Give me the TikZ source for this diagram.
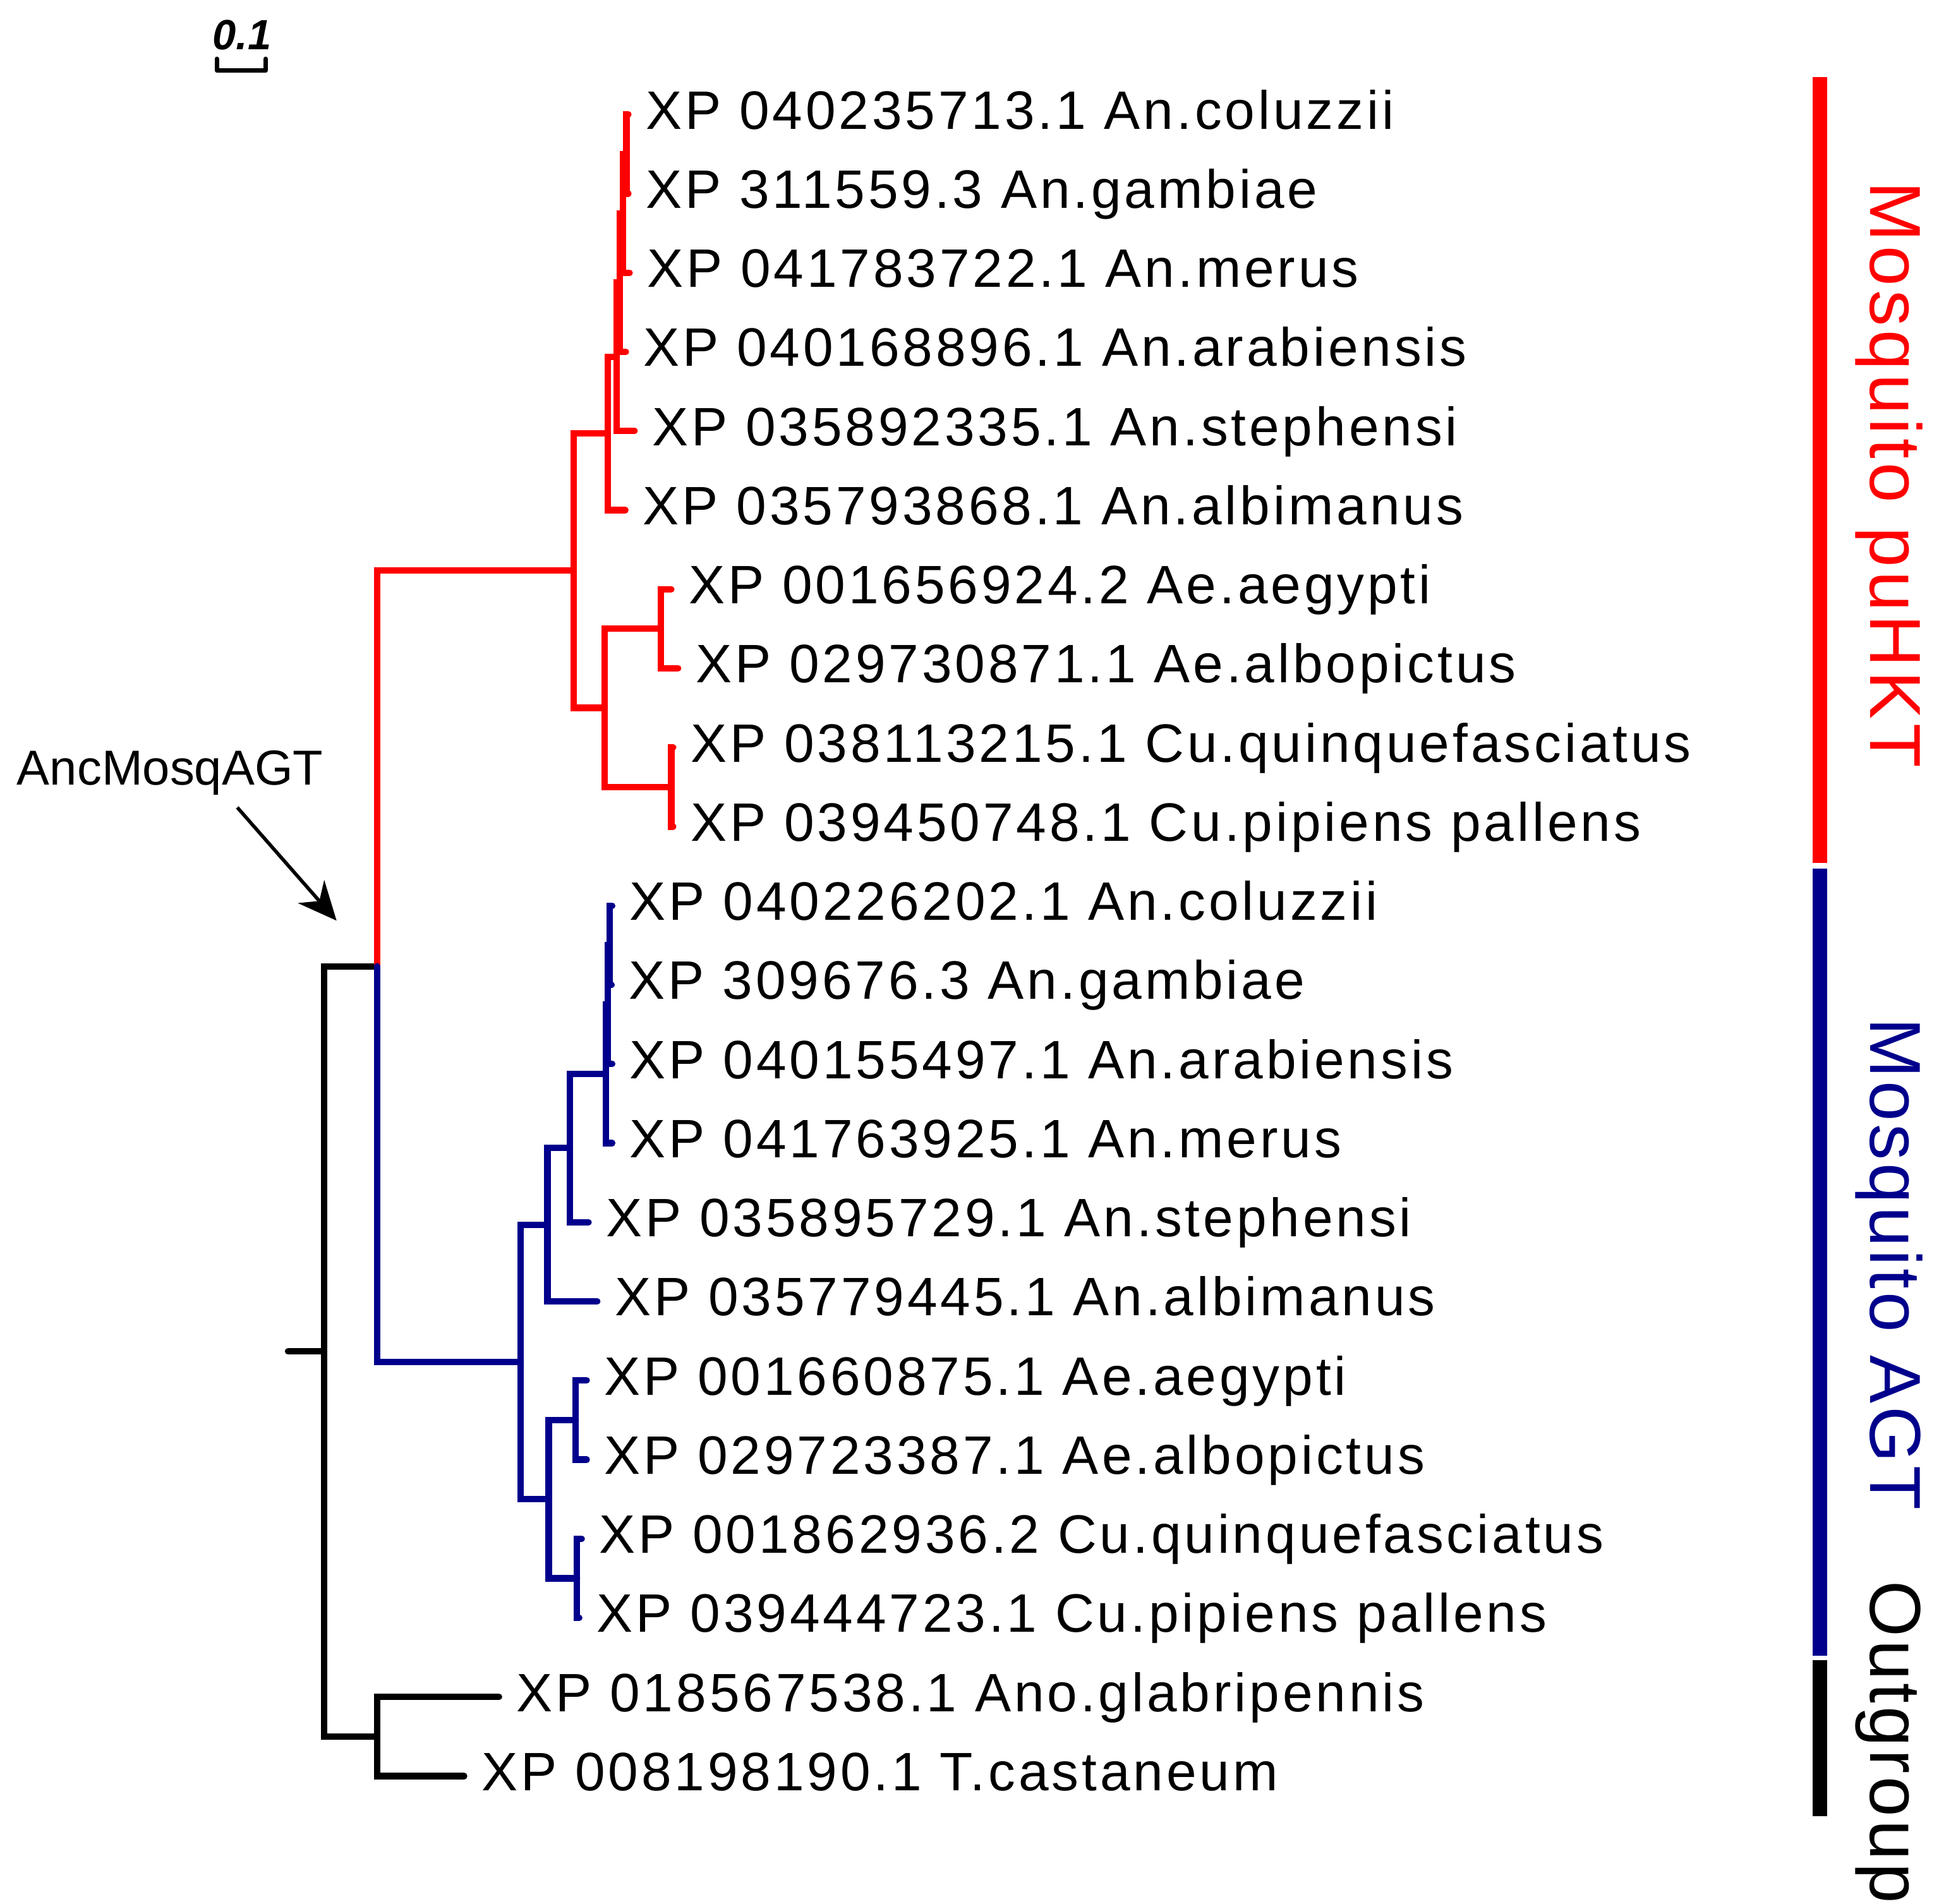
\documentclass[tikz,border=0pt]{standalone}
\usepackage{fontspec}
\setmainfont{Liberation Sans}
\newfontfamily\leaffont{Liberation Sans}[LetterSpace=5.7]
\newfontfamily\cladefont{Liberation Sans}[LetterSpace=4.3]
\newfontfamily\cladefontwide{Liberation Sans}[LetterSpace=5.6]
\usetikzlibrary{arrows.meta}
\definecolor{treered}{RGB}{255,0,0}
\definecolor{treeblue}{RGB}{0,0,140}
\tikzset{
  branch/.style={line width=5.2pt, line cap=round, line join=miter},
  redb/.style={branch, draw=treered},
  blueb/.style={branch, draw=treeblue},
  blackb/.style={branch, draw=black},
  leaf/.style={font=\leaffont\fontsize{43.5}{52}\selectfont, inner sep=0pt, anchor=base west, text=black},
  clade/.style={font=\cladefont\fontsize{58}{66}\selectfont, inner sep=0pt, anchor=base west, rotate=-90},
  cladewide/.style={font=\cladefontwide\fontsize{58}{66}\selectfont, inner sep=0pt, anchor=base west, rotate=-90},
}
\begin{document}
\begin{tikzpicture}[x=1pt,y=-1pt]
\fill[white] (0,0) rectangle (1568,1530.4);
\useasboundingbox (0,0) rectangle (1568,1530.4);

% ---------- leaf tips ----------
\coordinate (t1) at (505,92);
\coordinate (t2) at (505,155.6);
\coordinate (t3) at (506,219.2);
\coordinate (t4) at (503,282.8);
\coordinate (t5) at (510,346.4);
\coordinate (t6) at (502.6,410);
\coordinate (t7) at (539.5,473.6);
\coordinate (t8) at (545,537.2);
\coordinate (t9) at (541,600.8);
\coordinate (t10) at (541,664.4);
\coordinate (t11) at (492,728);
\coordinate (t12) at (491.5,791.6);
\coordinate (t13) at (492,855.2);
\coordinate (t14) at (492,918.8);
\coordinate (t15) at (473,982.4);
\coordinate (t16) at (480,1046);
\coordinate (t17) at (471.5,1109.6);
\coordinate (t18) at (471.5,1173.2);
\coordinate (t19) at (467.5,1236.8);
\coordinate (t20) at (465.5,1300.4);
\coordinate (t21) at (401,1364);
\coordinate (t22) at (373,1427.6);

% ---------- internal nodes ----------
\coordinate (A) at (503.5,123.8);
\coordinate (B) at (500.5,171.5);
\coordinate (C) at (498,227.2);
\coordinate (D) at (495.5,286.8);
\coordinate (E) at (488.5,348.4);
\coordinate (H) at (531,505.4);
\coordinate (I) at (539.5,632.6);
\coordinate (G) at (486,569);
\coordinate (F) at (461,458.7);
\coordinate (N302) at (303,776.7);
\coordinate (K) at (490,759.8);
\coordinate (Lb) at (488.5,807.5);
\coordinate (M) at (487,863.2);
\coordinate (P) at (458,922.8);
\coordinate (Q) at (440,984.4);
\coordinate (R) at (462.7,1141.4);
\coordinate (S) at (463.7,1268.6);
\coordinate (T) at (441,1205);
\coordinate (Bl) at (418.5,1094.7);
\coordinate (Og) at (303,1395.8);
\coordinate (Root) at (260.5,1086.2);
\coordinate (stub) at (231.5,1086.2);

% ---------- black part ----------
\draw[blackb] (t21) -| (Og) |- (t22);
\draw[blackb] (N302) -| (Root) |- (Og);
\draw[blackb] (stub) -- (Root);

% ---------- red clade ----------
\draw[redb] (t1) -| (A) |- (t2);
\draw[redb] (A) -| (B) |- (t3);
\draw[redb] (B) -| (C) |- (t4);
\draw[redb] (C) -| (D) |- (t5);
\draw[redb] (D) -| (E) |- (t6);
\draw[redb] (t7) -| (H) |- (t8);
\draw[redb] (t9) -| (I) |- (t10);
\draw[redb] (H) -| (G) |- (I);
\draw[redb] (E) -| (F) |- (G);
\draw[redb] (F) -| (N302);

% ---------- blue clade ----------
\draw[blueb] (t11) -| (K) |- (t12);
\draw[blueb] (K) -| (Lb) |- (t13);
\draw[blueb] (Lb) -| (M) |- (t14);
\draw[blueb] (M) -| (P) |- (t15);
\draw[blueb] (P) -| (Q) |- (t16);
\draw[blueb] (t17) -| (R) |- (t18);
\draw[blueb] (t19) -| (S) |- (t20);
\draw[blueb] (R) -| (T) |- (S);
\draw[blueb] (Q) -| (Bl) |- (T);
\draw[blueb] (N302) |- (Bl);

% ---------- leaf labels ----------
\node[leaf] (n1) at ([xshift=14pt,yshift=-11.6pt]t1) {XP 040235713.1 An.coluzzii};
\node[leaf] (n2) at ([xshift=14pt,yshift=-11.6pt]t2) {XP 311559.3 An.gambiae};
\node[leaf] (n3) at ([xshift=14pt,yshift=-11.6pt]t3) {XP 041783722.1 An.merus};
\node[leaf] (n4) at ([xshift=14pt,yshift=-11.6pt]t4) {XP 040168896.1 An.arabiensis};
\node[leaf] (n5) at ([xshift=14pt,yshift=-11.6pt]t5) {XP 035892335.1 An.stephensi};
\node[leaf] (n6) at ([xshift=14pt,yshift=-11.6pt]t6) {XP 035793868.1 An.albimanus};
\node[leaf] (n7) at ([xshift=14pt,yshift=-11.6pt]t7) {XP 001656924.2 Ae.aegypti};
\node[leaf] (n8) at ([xshift=14pt,yshift=-11.6pt]t8) {XP 029730871.1 Ae.albopictus};
\node[leaf] (n9) at ([xshift=14pt,yshift=-11.6pt]t9) {XP 038113215.1 Cu.quinquefasciatus};
\node[leaf] (n10) at ([xshift=14pt,yshift=-11.6pt]t10) {XP 039450748.1 Cu.pipiens pallens};
\node[leaf] (n11) at ([xshift=14pt,yshift=-11.6pt]t11) {XP 040226202.1 An.coluzzii};
\node[leaf] (n12) at ([xshift=14pt,yshift=-11.6pt]t12) {XP 309676.3 An.gambiae};
\node[leaf] (n13) at ([xshift=14pt,yshift=-11.6pt]t13) {XP 040155497.1 An.arabiensis};
\node[leaf] (n14) at ([xshift=14pt,yshift=-11.6pt]t14) {XP 041763925.1 An.merus};
\node[leaf] (n15) at ([xshift=14pt,yshift=-11.6pt]t15) {XP 035895729.1 An.stephensi};
\node[leaf] (n16) at ([xshift=14pt,yshift=-11.6pt]t16) {XP 035779445.1 An.albimanus};
\node[leaf] (n17) at ([xshift=14pt,yshift=-11.6pt]t17) {XP 001660875.1 Ae.aegypti};
\node[leaf] (n18) at ([xshift=14pt,yshift=-11.6pt]t18) {XP 029723387.1 Ae.albopictus};
\node[leaf] (n19) at ([xshift=14pt,yshift=-11.6pt]t19) {XP 001862936.2 Cu.quinquefasciatus};
\node[leaf] (n20) at ([xshift=14pt,yshift=-11.6pt]t20) {XP 039444723.1 Cu.pipiens pallens};
\node[leaf] (n21) at ([xshift=14pt,yshift=-11.6pt]t21) {XP 018567538.1 Ano.glabripennis};
\node[leaf] (n22) at ([xshift=14pt,yshift=-11.6pt]t22) {XP 008198190.1 T.castaneum};

% ---------- scale bar ----------
\coordinate (sb1) at (174.2,47.3);
\coordinate (sb2) at (174.2,56.7);
\coordinate (sb3) at (213.5,56.7);
\coordinate (sb4) at (213.5,47.3);
\draw[line width=3.6pt, line cap=round, line join=round] (sb1) -- (sb2) -- (sb3) -- (sb4);
\node[font=\bfseries\itshape\fontsize{34}{40}\selectfont, inner sep=0pt, anchor=base] (sbl) at (194.6,39.8) {0.1};

% ---------- ancestor label and arrow ----------
\node[font=\fontsize{39.5}{46}\selectfont, inner sep=0pt, anchor=base west] (anc) at (13.5,631) {AncMosqAGT};
\coordinate (arrs) at (190.7,649);
\coordinate (arrt) at (270.5,740);
\draw[line width=2.8pt, -{Stealth[length=31pt,width=28pt,inset=10pt]}] (arrs) -- (arrt);

% ---------- clade bars ----------
\fill[treered] (1456.6,62) rectangle (1468.7,693.7);
\fill[treeblue] (1456.6,698) rectangle (1468.7,1330.6);
\fill[black] (1456.6,1334.5) rectangle (1468.7,1459.6);

\node[cladewide, text=treered] (c1) at (1503.3,146) {Mosquito puHKT};
\node[clade, text=treeblue] (c2) at (1503.3,818) {Mosquito AGT};
\node[clade, text=black] (c3) at (1503.3,1270.6) {Outgroup};
\end{tikzpicture}
\end{document}
